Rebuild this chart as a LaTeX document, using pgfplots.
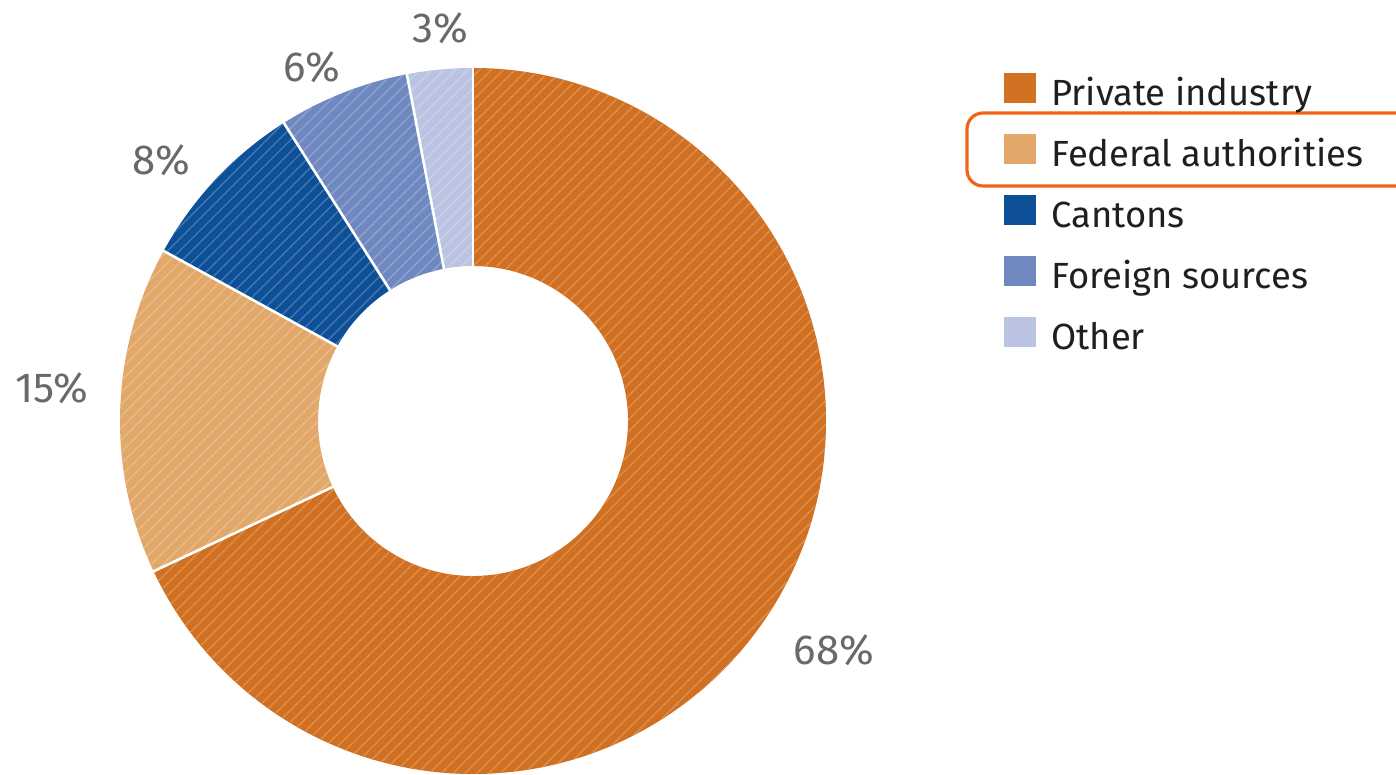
\documentclass[border=0pt]{standalone}
\usepackage{fontspec}
\setmainfont{Fira Sans}
\usepackage{pgfplots}
\pgfplotsset{compat=1.18}
\usepackage{pgfplotstable}
\usetikzlibrary{patterns.meta}

\definecolor{c0}{RGB}{208,112,32}
\definecolor{c1}{RGB}{226,168,105}
\definecolor{c2}{RGB}{14,80,152}
\definecolor{c3}{RGB}{112,136,192}
\definecolor{c4}{RGB}{186,196,226}
\definecolor{lbl}{RGB}{105,105,105}
\definecolor{hl}{RGB}{240,100,20}

% share (%) and label position (in picture units)
\pgfplotstableread{
value lx ly
68 834 125
15 52 387
8 161 615
6 312 708
3 440 747
}\sharetable

\begin{document}
\begin{tikzpicture}
\begin{axis}[
  hide axis, scale only axis,
  width=698pt, height=387.5pt,
  xmin=0, xmax=1396, ymin=0, ymax=775,
  clip=false,
  legend cell align=left,
  legend image code/.code={%
    \path[draw=none, fill=none] (0pt,0pt) rectangle (16pt,15pt);
    \fill[#1, draw=none, overlay] (0pt,-6.5pt) rectangle (16pt,8.5pt);},
  legend style={
    at={(axis cs:1004,715)}, anchor=north west,
    draw=none, fill=none, inner sep=0pt,
    font=\fontsize{18.2}{21}\selectfont, text=black!88,
    nodes={inner sep=0pt, text height=15pt, text depth=0pt},
    row sep=8pt,
    /tikz/every odd column/.append style={column sep=7.5pt},
  },
]
\addlegendimage{fill=c0}\addlegendentry{Private industry}
\addlegendimage{fill=c1}\addlegendentry{Federal authorities}
\addlegendimage{fill=c2}\addlegendentry{Cantons}
\addlegendimage{fill=c3}\addlegendentry{Foreign sources}
\addlegendimage{fill=c4}\addlegendentry{Other}

\pgfplotsextra{
  \coordinate (C) at (axis cs:473,354);
  \gdef\startang{90}
  \pgfplotstableforeachcolumnelement{value}\of\sharetable\as\v{%
    \pgfmathsetmacro\s{\startang}%
    \pgfmathsetmacro\e{\startang-3.6*\v}%
    \edef\cn{c\pgfplotstablerow}%
    \fill[\cn, postaction={pattern={Lines[angle=45,distance=4.2pt,line width=0.7pt]}, pattern color=\cn!78!white}]
      ([shift={(\s:176.5pt)}]C) arc[start angle=\s, end angle=\e, radius=176.5pt]
      -- ([shift={(\e:77.5pt)}]C) arc[start angle=\e, end angle=\s, radius=77.5pt] -- cycle;
    \xdef\startang{\e}%
  }
  \gdef\startang{90}
  \pgfplotstableforeachcolumnelement{value}\of\sharetable\as\v{%
    \pgfmathsetmacro\s{\startang}%
    \draw[white, line width=1.3pt] ([shift={(\s:77pt)}]C) -- ([shift={(\s:177pt)}]C);
    \pgfmathsetmacro\e{\startang-3.6*\v}%
    \xdef\startang{\e}%
  }
  \draw[hl, line width=1.6pt, rounded corners=8pt]
    (axis cs:1396,662) -- (axis cs:967,662) -- (axis cs:967,589) -- (axis cs:1396,589);
}

\addplot[only marks, mark=none, point meta=explicit symbolic,
  nodes near coords={\pgfplotspointmeta\%},
  nodes near coords align=center,
  every node near coord/.append style={font=\fontsize{21}{24}\selectfont, text=lbl, anchor=center}]
  table[x=lx, y=ly, meta=value] {\sharetable};
\end{axis}
\pgfresetboundingbox
\path (current axis.south west) rectangle (current axis.north east);
\end{tikzpicture}
\end{document}
